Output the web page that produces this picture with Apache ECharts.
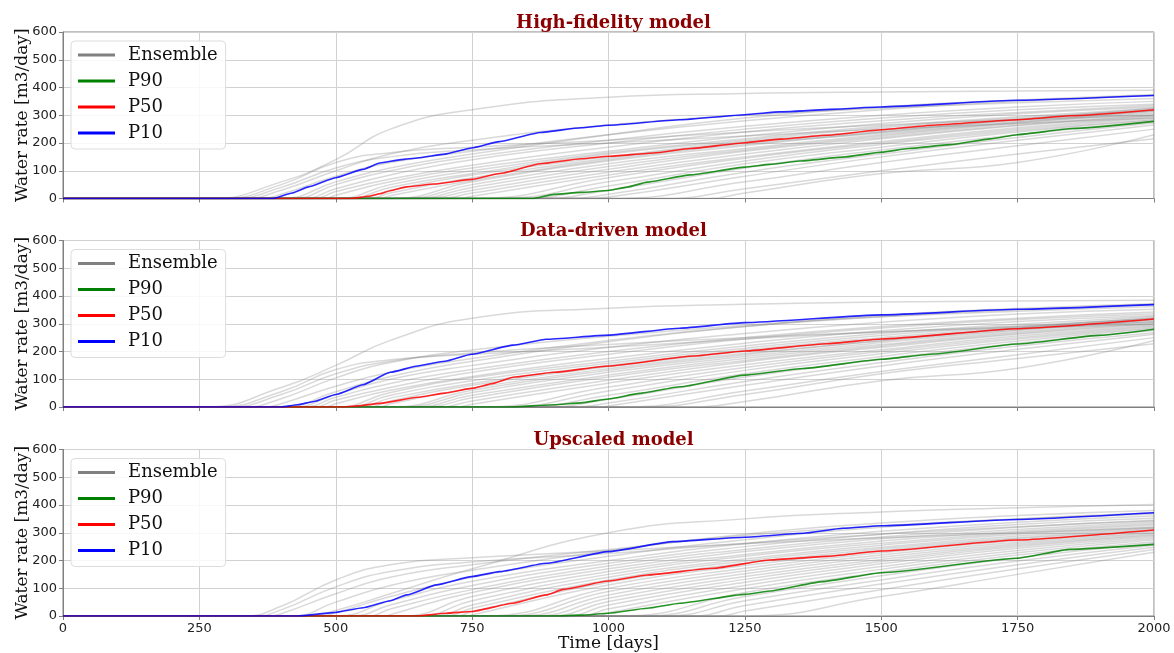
<!DOCTYPE html>
<html><head><meta charset="utf-8">
<script src="https://cdn.jsdelivr.net/npm/echarts@6/dist/echarts.min.js"></script>
<style>html,body{margin:0;padding:0;background:#fff}#c{width:1174px;height:653px}</style>
</head><body><div id="c"></div>
<script>
// ---------- DATA ----------
const panelTitles = ['High-fidelity model', 'Data-driven model', 'Upscaled model'];
const xTicks = [0, 250, 500, 750, 1000, 1250, 1500, 1750, 2000];
const yTicks = [0, 100, 200, 300, 400, 500, 600];
const legendNames = ['Ensemble', 'P90', 'P50', 'P10'];

// ensemble members: [onset day, value at each of ensDays] (values at days <= onset unused)
const ensDays = [400, 500, 600, 750, 1000, 1250, 1500, 1750, 2000];

const hfEnsemble = [
  [270, 60,140,250,320,365,378,384,387,390],
  [290, 50,130,165,185,210,240,265,285,300],
  [310, 40,110,150,175,200,225,250,270,290],
  [330, 30,100,160,210,265,300,325,345,360],
  [360, 15, 80,130,170,230,280,320,350,372],
  [400,  0, 60,110,160,230,290,330,355,375],
  [420,  0, 50,100,150,210,260,300,330,350],
  [440,  0, 35, 85,140,200,250,290,320,340],
  [460,  0, 25, 70,120,185,240,280,310,335],
  [480,  0, 12, 60,110,170,225,270,305,330],
  [500,  0,  0, 50,100,165,215,260,295,325],
  [520,  0,  0, 40, 90,160,210,255,290,320],
  [540,  0,  0, 30, 85,150,205,245,285,318],
  [560,  0,  0, 20, 75,145,200,240,280,315],
  [580,  0,  0, 10, 65,140,195,235,275,310],
  [600,  0,  0,  0, 60,135,190,240,285,325],
  [620,  0,  0,  0, 50,125,180,230,275,315],
  [640,  0,  0,  0, 40,115,175,225,270,305],
  [660,  0,  0,  0, 30,105,170,220,265,300],
  [690,  0,  0,  0, 20, 95,160,215,262,298],
  [720,  0,  0,  0,  8, 85,150,205,255,295],
  [750,  0,  0,  0,  0, 75,145,200,250,290],
  [790,  0,  0,  0,  0, 60,135,195,245,285],
  [830,  0,  0,  0,  0, 45,125,185,240,282],
  [870,  0,  0,  0,  0, 30,110,175,230,278],
  [920,  0,  0,  0,  0, 15, 95,160,220,272],
  [960,  0,  0,  0,  0,  5, 80,150,210,265],
  [1000, 0,  0,  0,  0,  0, 60,130,190,250],
  [1100, 0,  0,  0,  0,  0, 35,100,160,215],
  [1180, 0,  0,  0,  0,  0, 20, 90,130,230]
];
const ddEnsemble = [
  [260, 70,150,240,320,356,370,378,382,385],
  [280, 55,135,170,190,215,245,270,290,305],
  [300, 45,120,165,195,225,250,270,285,298],
  [330, 30,105,160,205,255,295,325,345,362],
  [370, 12, 75,125,175,240,290,325,350,370],
  [400,  0, 55,110,165,235,290,330,355,372],
  [420,  0, 45,100,150,215,265,305,335,352],
  [440,  0, 35, 85,135,200,250,290,320,342],
  [460,  0, 25, 70,125,190,245,285,315,336],
  [480,  0, 12, 60,110,175,230,275,308,330],
  [500,  0,  0, 52,105,165,220,265,298,326],
  [520,  0,  0, 42, 95,158,212,258,292,320],
  [540,  0,  0, 32, 85,150,205,250,288,318],
  [560,  0,  0, 22, 78,145,200,245,283,315],
  [580,  0,  0, 12, 68,138,193,238,278,310],
  [600,  0,  0,  0, 60,132,188,240,285,322],
  [620,  0,  0,  0, 52,125,182,232,276,314],
  [640,  0,  0,  0, 42,115,175,225,270,306],
  [660,  0,  0,  0, 33,108,168,220,266,302],
  [690,  0,  0,  0, 22, 96,162,215,262,298],
  [720,  0,  0,  0, 10, 86,152,206,256,294],
  [760,  0,  0,  0,  0, 72,142,200,250,290],
  [800,  0,  0,  0,  0, 58,132,192,245,286],
  [840,  0,  0,  0,  0, 42,120,182,238,282],
  [880,  0,  0,  0,  0, 28,108,172,230,276],
  [930,  0,  0,  0,  0, 14, 92,160,220,268],
  [980,  0,  0,  0,  0,  4, 78,148,208,262],
  [1020, 0,  0,  0,  0,  0, 58,128,188,250],
  [1050, 0,  0,  0,  0,  0, 45,120,175,228],
  [1150, 0,  0,  0,  0,  0, 20, 95,140,240]
];
const upEnsemble = [
  [330, 35,130,185,210,235,260,282,300,318],
  [350, 22,105,160,195,225,262,295,322,342],
  [380,  8, 80,140,185,240,290,325,350,368],
  [420,  0, 50,110,165,235,295,335,362,380],
  [450,  0, 20, 80,170,300,350,375,390,402],
  [470,  0, 12, 70,140,215,275,320,350,372],
  [500,  0,  0, 55,125,200,260,305,338,360],
  [530,  0,  0, 40,110,190,250,295,330,352],
  [560,  0,  0, 25, 95,180,240,285,320,345],
  [590,  0,  0,  5, 85,170,232,278,312,338],
  [620,  0,  0,  0, 70,160,222,270,305,332],
  [650,  0,  0,  0, 55,150,215,262,300,328],
  [680,  0,  0,  0, 40,140,205,255,295,322],
  [700,  0,  0,  0, 28,130,198,248,288,318],
  [720,  0,  0,  0, 16,122,190,242,282,314],
  [740,  0,  0,  0,  4,112,182,236,278,310],
  [770,  0,  0,  0,  0,100,172,228,272,306],
  [800,  0,  0,  0,  0, 88,162,220,266,302],
  [830,  0,  0,  0,  0, 76,152,212,260,298],
  [860,  0,  0,  0,  0, 64,142,204,255,294],
  [890,  0,  0,  0,  0, 52,132,196,250,290],
  [920,  0,  0,  0,  0, 40,122,188,244,286],
  [950,  0,  0,  0,  0, 26,110,178,236,280],
  [980,  0,  0,  0,  0, 12, 98,168,228,275],
  [1020, 0,  0,  0,  0,  0, 85,158,220,268],
  [1060, 0,  0,  0,  0,  0, 70,145,210,262],
  [1100, 0,  0,  0,  0,  0, 55,130,198,255],
  [1150, 0,  0,  0,  0,  0, 38,115,185,248],
  [1200, 0,  0,  0,  0,  0, 18, 95,170,240],
  [1250, 0,  0,  0,  0,  0,  0, 70,150,230]
];

// percentile curves: [day, value]
const hfP90 = [[0,0],[860,0],[900,15],[950,22],[1000,29],[1034,41],[1071,59],[1150,85],[1250,113],[1296,123],[1350,135],[1430,149],[1501,167],[1550,180],[1626,194],[1700,215],[1749,230],[1850,252],[2000,278]];
const hfP50 = [[0,0],[530,0],[560,8],[581,17],[600,28],[630,42],[680,52],[749,69],[800,90],[875,125],[950,143],[1000,152],[1083,164],[1150,180],[1250,201],[1314,214],[1400,228],[1501,248],[1600,265],[1749,284],[1850,298],[2000,320]];
const hfP10 = [[0,0],[385,0],[420,20],[450,42],[500,75],[550,105],[581,128],[620,140],[650,146],[700,160],[749,182],[800,205],[875,238],[950,255],[1000,264],[1131,284],[1250,302],[1314,312],[1500,330],[1750,354],[2000,371]];

const ddP90 = [[0,0],[820,0],[900,8],[950,15],[1000,29],[1057,49],[1131,73],[1250,115],[1357,139],[1501,172],[1596,191],[1749,227],[1900,258],[2000,280]];
const ddP50 = [[0,0],[510,0],[540,4],[581,13],[650,35],[700,50],[749,67],[789,85],[825,107],[900,125],[1000,148],[1156,184],[1250,202],[1400,228],[1501,245],[1749,282],[2000,317]];
const ddP10 = [[0,0],[400,0],[430,8],[460,20],[500,45],[550,80],[600,125],[650,148],[700,165],[749,190],[825,223],[886,244],[1000,259],[1131,284],[1250,304],[1500,332],[1749,352],[2000,369]];

const upP90 = [[0,0],[900,0],[950,3],[1000,10],[1071,28],[1131,46],[1250,78],[1296,90],[1392,124],[1501,156],[1749,208],[1846,240],[2000,258]];
const upP50 = [[0,0],[650,0],[702,10],[749,16],[825,46],[886,76],[917,96],[1000,126],[1071,148],[1192,172],[1296,202],[1400,215],[1500,234],[1749,274],[2000,310]];
const upP10 = [[0,0],[430,0],[495,12],[550,30],[600,55],[630,76],[685,112],[749,142],[800,160],[886,190],[1000,232],[1118,268],[1250,284],[1357,298],[1430,316],[1500,325],[1750,348],[2000,372]];

// ---------- CHART ----------
const ensembles = [hfEnsemble, ddEnsemble, upEnsemble];
const pcts = [[hfP90, hfP50, hfP10], [ddP90, ddP50, ddP10], [upP90, upP50, upP10]];
const colors = {Ensemble: '#808080', P90: '#008000', P50: '#ff0000', P10: '#0000ff'};

function ensPoints(row) {
  const onset = row[0];
  const pts = [[0, 0], [onset, 0]];
  ensDays.forEach((d, i) => { if (d > onset) pts.push([d, row[i + 1]]); });
  return pts;
}

const gridTops = [32, 240.5, 449.5];
const gridH = 166.5;
const SERIF = '"DejaVu Serif", "Liberation Serif", serif';
const SANS = '"DejaVu Sans", sans-serif';

const grids = [], xAxes = [], yAxes = [], titles = [], legends = [], series = [];
for (let p = 0; p < 3; p++) {
  grids.push({left: 63, right: 20, top: gridTops[p], height: gridH, show: true,
    containLabel: false, outerBoundsMode: 'none',
    borderColor: '#808080', borderWidth: 1, backgroundColor: 'transparent'});
  xAxes.push({type: 'value', gridIndex: p, min: xTicks[0], max: xTicks[xTicks.length - 1], interval: 250,
    axisLine: {show: true, lineStyle: {color: '#808080', width: 1}},
    axisTick: {show: true, length: 4, lineStyle: {color: '#808080'}},
    axisLabel: {show: p === 2, fontSize: 13, fontFamily: SANS, color: '#222', margin: 6,
      formatter: v => String(v)},
    splitLine: {show: true, lineStyle: {color: '#d2d2d2', width: 1}},
    name: p === 2 ? 'Time [days]' : '', nameLocation: 'middle', nameGap: 19, nameMoveOverlap: false,
    nameTextStyle: {fontFamily: SERIF, fontSize: 17, color: '#111', verticalAlign: 'top'}});
  yAxes.push({type: 'value', gridIndex: p, min: yTicks[0], max: yTicks[yTicks.length - 1], interval: 100,
    axisLine: {show: true, lineStyle: {color: '#808080', width: 1}},
    axisTick: {show: true, length: 4, lineStyle: {color: '#808080'}},
    axisLabel: {fontSize: 13, fontFamily: SANS, color: '#222', margin: 6, formatter: v => String(v)},
    splitLine: {show: true, lineStyle: {color: '#d2d2d2', width: 1}},
    name: 'Water rate [m3/day]', nameLocation: 'middle', nameGap: 32, nameMoveOverlap: false,
    nameTextStyle: {fontFamily: SERIF, fontSize: 17, color: '#111'}});
  titles.push({text: panelTitles[p], left: 608.5, textAlign: 'center', top: gridTops[p] - 23,
    textStyle: {fontFamily: SERIF, fontWeight: 'bold', fontSize: 18, color: '#8b0000'}});
  legends.push({orient: 'vertical', left: 71, top: gridTops[p] + 9,
    icon: 'rect', itemWidth: 37, itemHeight: 3, itemGap: 6,
    padding: [4, 8, 6, 7],
    backgroundColor: 'rgba(255,255,255,0.85)', borderColor: '#dddddd', borderWidth: 1, borderRadius: 4,
    textStyle: {fontFamily: SERIF, fontSize: 18, color: '#111', lineHeight: 20, padding: [0, 0, 0, 8]},
    data: legendNames.map(n => ({name: n, itemStyle: {color: colors[n], opacity: 1}}))});
  ensembles[p].forEach(row => {
    series.push({type: 'line', name: 'Ensemble', xAxisIndex: p, yAxisIndex: p,
      data: ensPoints(row), showSymbol: false, symbol: 'none', smooth: 0.5,
      silent: true, color: '#808080',
      lineStyle: {color: '#808080', width: 1.5, opacity: 0.3}});
  });
  ['P90', 'P50', 'P10'].forEach((n, k) => {
    series.push({type: 'line', name: n, xAxisIndex: p, yAxisIndex: p,
      data: pcts[p][k], showSymbol: false, symbol: 'none', smooth: 0.15, smoothMonotone: 'x',
      silent: true, color: colors[n], z: 3,
      lineStyle: {color: colors[n], width: 1.6, opacity: 0.85}});
  });
}

const chart = echarts.init(document.getElementById('c'), null, {renderer: 'canvas'});
chart.setOption({
  animation: false,
  backgroundColor: '#ffffff',
  title: titles, legend: legends, grid: grids, xAxis: xAxes, yAxis: yAxes, series: series
});
</script></body></html>
